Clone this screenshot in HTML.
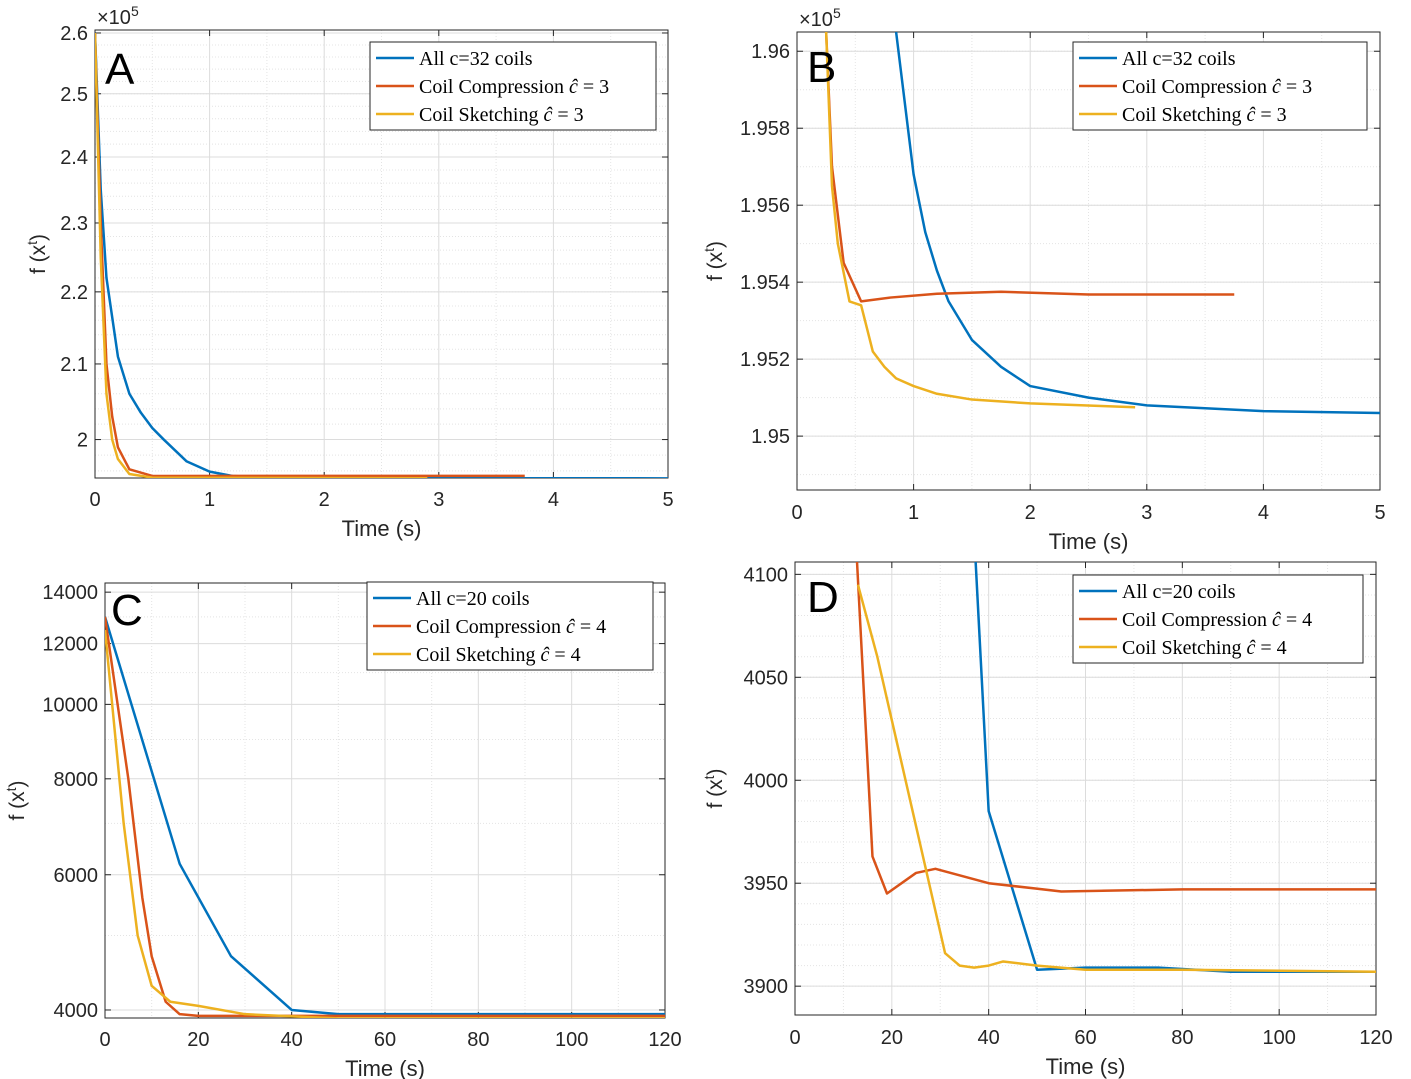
<!DOCTYPE html>
<html><head><meta charset="utf-8"><style>
body{margin:0;background:#fff;}
svg{display:block;font-family:"Liberation Sans",sans-serif;}
.tick{font-size:20px;fill:#262626;}
.leg{font-family:"Liberation Serif",serif;font-size:20px;fill:#000;}
</style></head><body>
<svg id="chart" width="1411" height="1079"></svg>
<script>
// ---- data arrays ----
const aBlueT=[0,0.05,0.1,0.2,0.3,0.4,0.5,0.6,0.8,1.0,1.2,1.5,2,5];
const aBlueY=[2.6,2.35,2.22,2.11,2.06,2.035,2.015,2.0,1.972,1.959,1.9535,1.9515,1.9508,1.9506];
const aOrT=[0,0.05,0.1,0.15,0.2,0.3,0.5,3.75];
const aOrY=[2.6,2.3,2.1,2.03,1.99,1.962,1.9536,1.9537];
const aYeT=[0,0.05,0.1,0.15,0.2,0.3,0.5,2.9];
const aYeY=[2.6,2.25,2.06,2.0,1.975,1.956,1.9515,1.9507];
const bBlueT=[0.85,1.0,1.1,1.2,1.3,1.5,1.75,2,2.5,3,4,5];
const bBlueY=[1.9605,1.9568,1.9553,1.9543,1.9535,1.9525,1.9518,1.9513,1.951,1.9508,1.95065,1.9506];
const bOrT=[0.25,0.3,0.4,0.55,0.8,1.2,1.75,2.5,3.75];
const bOrY=[1.9605,1.957,1.9545,1.9535,1.9536,1.9537,1.95375,1.95368,1.95368];
const bYeT=[0.25,0.3,0.35,0.45,0.55,0.6,0.65,0.75,0.85,1,1.2,1.5,2,2.9];
const bYeY=[1.9605,1.9565,1.955,1.9535,1.9534,1.9528,1.9522,1.9518,1.9515,1.9513,1.9511,1.95095,1.95085,1.95075];
const cBlueT=[0,16,27,40,50,120];
const cBlueY=[13000,6200,4700,4000,3950,3950];
const cOrT=[0,5,8,10,13,16,20,120];
const cOrY=[13000,8000,5600,4700,4100,3950,3930,3930];
const cYeT=[0,4,7,10,14,20,30,50,120];
const cYeY=[12500,7000,5000,4300,4100,4050,3950,3900,3900];
const dBlueT=[37,40,50,60,75,90,120];
const dBlueY=[4120,3985,3908,3909,3909,3907,3907];
const dOrT=[12.5,16,19,25,29,40,55,80,120];
const dOrY=[4120,3963,3945,3955,3957,3950,3946,3947,3947];
const dYeT=[13,17,31,34,37,40,43,50,60,80,120];
const dYeY=[4095,4060,3916,3910,3909,3910,3912,3910,3908,3908,3907];
const aYTicks=[2.0,2.1,2.2,2.3,2.4,2.5,2.6];
const bYTicks=[1.95,1.952,1.954,1.956,1.958,1.96];
const cYTicks=[4000,6000,8000,10000,12000,14000];
const dYTicks=[3900,3950,4000,4050,4100];
const abXTicks=[0,1,2,3,4,5];
const cdXTicks=[0,20,40,60,80,100,120];

const NS="http://www.w3.org/2000/svg";
const svg=document.getElementById('chart');
function mk(tag,attrs,parent){const e=document.createElementNS(NS,tag);for(const k in attrs)e.setAttribute(k,attrs[k]);(parent||svg).appendChild(e);return e;}
const COL=['#0072BD','#D95319','#EDB120'];
let clipId=0;
function panel(p){
  const g=mk('g',{});
  
  
  const f=p.log?Math.log10:(v=>v);
  const sx=v=>p.x0+(v-p.xmin)/(p.xmax-p.xmin)*(p.x1-p.x0);
  const sy=v=>p.y1-(f(v)-f(p.ymin))/(f(p.ymax)-f(p.ymin))*(p.y1-p.y0);
  const gg=mk('g',{},g);
  
  
  p.minorY.forEach(v=>{const y=sy(v);if(y>p.y0&&y<p.y1)mk('line',{x1:p.x0,x2:p.x1,y1:y,y2:y,stroke:'#e4e4e4','stroke-width':1,'stroke-dasharray':'1 2'},gg);});
  p.minorX.forEach(v=>{const x=sx(v);mk('line',{x1:x,x2:x,y1:p.y0,y2:p.y1,stroke:'#e4e4e4','stroke-width':1,'stroke-dasharray':'1 2'},gg);});
  p.yt.forEach(v=>{const y=sy(v);mk('line',{x1:p.x0,x2:p.x1,y1:y,y2:y,stroke:'#dcdcdc','stroke-width':1},gg);});
  p.xt.forEach(v=>{const x=sx(v);mk('line',{x1:x,x2:x,y1:p.y0,y2:p.y1,stroke:'#dcdcdc','stroke-width':1},gg);});
  const box=mk('rect',{x:p.x0,y:p.y0,width:p.x1-p.x0,height:p.y1-p.y0,fill:'none',stroke:'#262626','stroke-width':1},g);
  
  
  p.yt.forEach(v=>{const y=sy(v);
    mk('line',{x1:p.x0,x2:p.x0+6,y1:y,y2:y,stroke:'#262626'},g);
    mk('line',{x1:p.x1,x2:p.x1-6,y1:y,y2:y,stroke:'#262626'},g);
    const t=mk('text',{x:p.x0-7,y:y+7,'text-anchor':'end',class:'tick'},g);t.textContent=p.yfmt(v);
    
    });
  p.xt.forEach(v=>{const x=sx(v);
    mk('line',{x1:x,x2:x,y1:p.y1,y2:p.y1-6,stroke:'#262626'},g);
    mk('line',{x1:x,x2:x,y1:p.y0,y2:p.y0+6,stroke:'#262626'},g);
    const t=mk('text',{x:x,y:p.y1+p.xlo,'text-anchor':'middle',class:'tick'},g);t.textContent=v;
    
    });
  if(p.exp){const t=mk('text',{x:p.x0+2,y:p.y0-6,class:'tick'},g);t.innerHTML='×10<tspan dy="-8" font-size="14">5</tspan>';
    
    }
  const xl=mk('text',{x:(p.x0+p.x1)/2,y:p.y1+p.xlo+30,'text-anchor':'middle',class:'tick',style:'font-size:22px'},g);xl.textContent='Time (s)';
  
  
  const yl=mk('text',{transform:`translate(${p.ylx},${(p.y0+p.y1)/2}) rotate(-90)`,'text-anchor':'middle',class:'tick',style:'font-size:21px'},g);
  yl.innerHTML='f (x<tspan dy="-8" font-size="14">t</tspan><tspan dy="8">)</tspan>';
  
  
  const cid='clip'+(clipId++);
  const cp=mk('clipPath',{id:cid},g);mk('rect',{x:p.x0,y:p.y0,width:p.x1-p.x0,height:p.y1-p.y0},cp);
  const names=['series-all-coils','series-coil-compression','series-coil-sketching'];
  p.series.forEach((s,i)=>{
    const d=s[0].map((t,j)=>(j?'L':'M')+sx(t).toFixed(2)+','+sy(s[1][j]).toFixed(2)).join('');
    const pa=mk('path',{d:d,fill:'none',stroke:COL[i],'stroke-width':2.5,'stroke-linejoin':'round','clip-path':`url(#${cid})`},g);
    
    
  });
  const L=mk('text',{x:p.x0+p.lx,y:p.y0+p.ly,style:'font-size:44px;fill:#000'},g);L.textContent=p.id;
  
  
  const lg=mk('g',{},g);
  
  
  mk('rect',{x:p.lgx,y:p.lgy,width:p.lgw,height:88,fill:'#fff',stroke:'#262626','stroke-width':1},lg);
  p.labels.forEach((lab,i)=>{const y=p.lgy+16+i*28;
    mk('line',{x1:p.lgx+6,x2:p.lgx+44,y1:y,y2:y,stroke:COL[i],'stroke-width':2.5},lg);
    const t=mk('text',{x:p.lgx+49,y:y+7,class:'leg'},lg);t.innerHTML=lab;
    
    });
}
const hat='<tspan font-style="italic">ĉ</tspan> = ';
function range(a,b,s){const r=[];for(let v=a;v<=b+1e-9;v+=s)r.push(+v.toFixed(6));return r;}
panel({id:'A',x0:95,x1:668,y0:30,y1:478,xmin:0,xmax:5,ymin:1.951,ymax:2.605,log:true,
 yt:aYTicks,xt:abXTicks,yfmt:v=>String(v).replace(/^2\.0$/,'2'),exp:true,xlo:28,ylx:45,
 minorY:range(1.96,2.6,0.02),minorX:range(0.5,4.5,1),
 series:[[aBlueT,aBlueY],[aOrT,aOrY],[aYeT,aYeY]],lx:10,ly:54,lgx:370,lgy:42,lgw:286,
 labels:['All c=32 coils','Coil Compression '+hat+'3','Coil Sketching '+hat+'3']});
panel({id:'B',x0:797,x1:1380,y0:32,y1:490,xmin:0,xmax:5,ymin:1.9486,ymax:1.9605,log:false,
 yt:bYTicks,xt:abXTicks,yfmt:v=>v,exp:true,xlo:29,ylx:722,
 minorY:range(1.949,1.96,0.001),minorX:range(0.5,4.5,1),
 series:[[bBlueT,bBlueY],[bOrT,bOrY],[bYeT,bYeY]],lx:10,ly:50,lgx:1073,lgy:42,lgw:294,
 labels:['All c=32 coils','Coil Compression '+hat+'3','Coil Sketching '+hat+'3']});
panel({id:'C',x0:105,x1:665,y0:583,y1:1018,xmin:0,xmax:120,ymin:3905,ymax:14390,log:true,
 yt:cYTicks,xt:cdXTicks,yfmt:v=>v,exp:false,xlo:28,ylx:24,
 minorY:[5000,7000,9000,11000,13000],minorX:range(10,110,20),
 series:[[cBlueT,cBlueY],[cOrT,cOrY],[cYeT,cYeY]],lx:6,ly:42,lgx:367,lgy:582,lgw:286,
 labels:['All c=20 coils','Coil Compression '+hat+'4','Coil Sketching '+hat+'4']});
panel({id:'D',x0:795,x1:1376,y0:562,y1:1015,xmin:0,xmax:120,ymin:3886,ymax:4106,log:false,
 yt:dYTicks,xt:cdXTicks,yfmt:v=>v,exp:false,xlo:29,ylx:722,
 minorY:range(3900,4100,10),minorX:range(10,110,20),
 series:[[dBlueT,dBlueY],[dOrT,dOrY],[dYeT,dYeY]],lx:12,ly:50,lgx:1073,lgy:575,lgw:290,
 labels:['All c=20 coils','Coil Compression '+hat+'4','Coil Sketching '+hat+'4']});
</script>
</body></html>
